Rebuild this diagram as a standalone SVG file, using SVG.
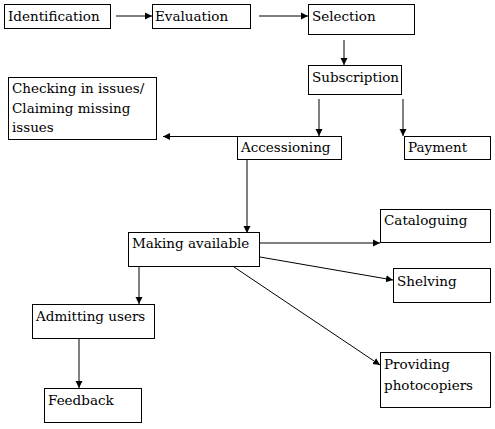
<svg xmlns="http://www.w3.org/2000/svg" width="495" height="429" viewBox="0 0 495 429">
<defs>
<marker id="ah" markerWidth="8" markerHeight="8" refX="7" refY="4" orient="auto" markerUnits="userSpaceOnUse">
<path d="M0,0.5 L7,4 L0,7.5 Z" fill="#000"/>
</marker>
<style>
rect{fill:#fff;stroke:#000;stroke-width:1}
text{font-family:'DejaVu Serif','Liberation Serif',serif;font-size:13.5px;fill:#000}
#connectors line{stroke:#000;stroke-width:1;marker-end:url(#ah)}
</style>
</defs>
<rect x="0" y="0" width="495" height="429" style="stroke:none"/>
<g id="connectors">
<line x1="116" y1="16" x2="152" y2="16"/>
<line x1="259" y1="16" x2="308" y2="16"/>
<line x1="344" y1="40" x2="344" y2="65"/>
<line x1="319" y1="99" x2="319" y2="136"/>
<line x1="403" y1="99" x2="403" y2="136"/>
<line x1="237" y1="136.5" x2="163" y2="136.5"/>
<line x1="247" y1="160" x2="247" y2="233"/>
<line x1="260" y1="243" x2="380" y2="243"/>
<line x1="260" y1="257" x2="393" y2="280"/>
<line x1="234" y1="267" x2="380" y2="365"/>
<line x1="139" y1="267" x2="139" y2="304"/>
<line x1="79" y1="339" x2="79" y2="388"/>
</g>
<g id="identification"><rect x="4.5" y="4.5" width="106" height="24"/><text x="8" y="21">Identification</text></g>
<g id="evaluation"><rect x="152.5" y="4.5" width="98" height="24"/><text x="155" y="21">Evaluation</text></g>
<g id="selection"><rect x="308.5" y="4.5" width="106" height="30"/><text x="312" y="21">Selection</text></g>
<g id="subscription"><rect x="308.5" y="65.5" width="93" height="29"/><text x="312" y="82">Subscription</text></g>
<g id="checking"><rect x="8.5" y="77.5" width="148" height="62"/><text x="12" y="93">Checking in issues/</text><text x="12" y="113">Claiming missing</text><text x="12" y="132">issues</text></g>
<g id="accessioning"><rect x="237.5" y="136.5" width="104" height="23"/><text x="241" y="152">Accessioning</text></g>
<g id="payment"><rect x="404.5" y="136.5" width="86" height="23"/><text x="408" y="152">Payment</text></g>
<g id="making-available"><rect x="128.5" y="232.5" width="131" height="34"/><text x="132" y="248">Making available</text></g>
<g id="cataloguing"><rect x="380.5" y="209.5" width="110" height="33"/><text x="384" y="225">Cataloguing</text></g>
<g id="shelving"><rect x="393.5" y="268.5" width="97" height="34"/><text x="397" y="286">Shelving</text></g>
<g id="providing"><rect x="380.5" y="352.5" width="110" height="55"/><text x="384" y="369">Providing</text><text x="384" y="390">photocopiers</text></g>
<g id="admitting"><rect x="32.5" y="304.5" width="122" height="34"/><text x="36" y="321">Admitting users</text></g>
<g id="feedback"><rect x="44.5" y="388.5" width="97" height="34"/><text x="48" y="405">Feedback</text></g>
</svg>
